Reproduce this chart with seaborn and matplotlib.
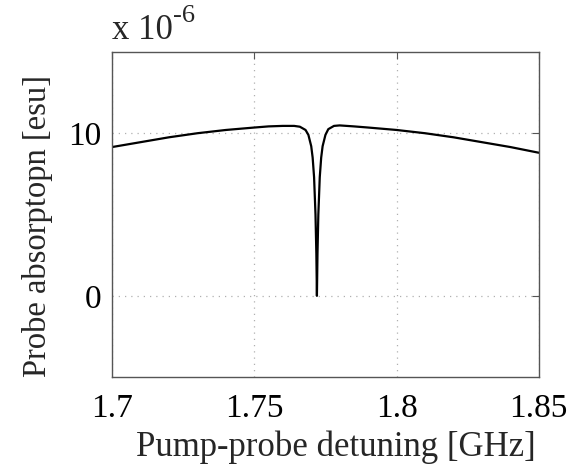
import matplotlib
matplotlib.use("Agg")
import matplotlib.pyplot as plt
import seaborn as sns
import pandas as pd

detuning = [1.700, 1.710, 1.720, 1.730, 1.740, 1.750, 1.755, 1.760, 1.764, 1.766,
            1.768, 1.769, 1.770, 1.7705, 1.771, 1.7715, 1.7718, 1.772, 1.7722,
            1.7725, 1.773, 1.7735, 1.774, 1.775, 1.776, 1.778, 1.780, 1.785,
            1.790, 1.800, 1.810, 1.820, 1.830, 1.840, 1.850]
absorption = [9.15, 9.45, 9.75, 10.0, 10.2, 10.35, 10.42, 10.45, 10.45, 10.4,
              10.2, 9.9, 9.2, 8.5, 7.3, 5.0, 2.6, 0.0, 2.6,
              5.0, 7.3, 8.5, 9.2, 9.9, 10.25, 10.45, 10.48, 10.42,
              10.35, 10.2, 10.0, 9.75, 9.45, 9.15, 8.8]
xticks = [1.7, 1.75, 1.8, 1.85]
xticklabels = ["1.7", "1.75", "1.8", "1.85"]
yticks = [0, 10]
yticklabels = ["0", "10"]

df = pd.DataFrame({"x": detuning, "y": absorption})

sns.set_style("white")
plt.rcParams["font.family"] = ["Liberation Serif", "DejaVu Serif"]

fig = plt.figure(figsize=(5.75, 4.72), dpi=100)
ax = fig.add_axes([0.195, 0.201, 0.742, 0.689])
sns.lineplot(data=df, x="x", y="y", ax=ax, color="black", linewidth=1.6, sort=False)

ax.set_xlim(1.7, 1.85)
ax.set_ylim(-5, 15)
ax.set_xticks(xticks)
ax.set_xticklabels(xticklabels)
ax.set_yticks(yticks)
ax.set_yticklabels(yticklabels)
ax.grid(True, linestyle=(0, (1, 4)), color="#b0b0b0", linewidth=0.9)
ax.tick_params(direction="in", length=5, width=0.8, colors="#555555",
               labelcolor="black", labelsize=24, top=True, right=True)
ax.tick_params(axis="x", pad=12)
ax.tick_params(axis="y", pad=8)
for s in ax.spines.values():
    s.set_color("#555555")
    s.set_linewidth(1.0)
ax.set_xlabel("Pump-probe detuning [GHz]", fontsize=25)
ax.set_ylabel("Probe absorptopn [esu]", fontsize=23.5)
ax.xaxis.set_label_coords(0.525, -0.165)
ax.yaxis.set_label_coords(-0.138, 0.465)
t1 = ax.text(0.0, 1.015, "x 10", transform=ax.transAxes,
             fontsize=25, ha="left", va="bottom")
ax.annotate("-6", xy=(1.0, 0.62), xycoords=t1, fontsize=19,
            ha="left", va="bottom")

fig.savefig("out.png", dpi=100)
